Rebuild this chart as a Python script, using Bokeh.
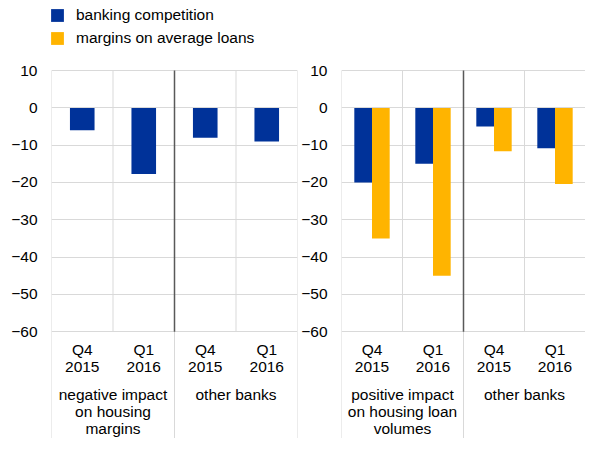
from bokeh.plotting import figure
from bokeh.models import Range1d, FixedTicker, Legend, LegendItem
from bokeh.layouts import row
from bokeh.embed import file_html
from bokeh.resources import INLINE
from bokeh.core.properties import value

# ---------------- data ----------------
quarters = ["Q4 2015", "Q1 2016", "Q4 2015", "Q1 2016"]
left_groups = ["negative impact\non housing\nmargins", "other banks"]
right_groups = ["positive impact\non housing loan\nvolumes", "other banks"]
series_names = ["banking competition", "margins on average loans"]

left_competition = [-6, -17.7, -8, -9]
right_competition = [-20, -15, -5, -10.8]
right_margins = [-35, -45, -11.6, -20.4]

yticks = [-60, -50, -40, -30, -20, -10, 0, 10]

# ---------------- style ----------------
BLUE = "#003299"
YELLOW = "#FFB400"
GRID = "#d9d9d9"
SEP = "#595959"
FONT = "Liberation Sans"
FSIZE = "15.5px"
Y_BOTTOM, Y_TOP = -88.63, 28.79
H = 438


def make_panel(width, border_left, border_right, groups):
    p = figure(width=width, height=H, x_range=Range1d(0, len(quarters)),
               y_range=Range1d(Y_BOTTOM, Y_TOP), output_backend="svg",
               toolbar_location=None, x_axis_location=None,
               min_border_left=border_left, min_border_right=border_right,
               min_border_top=0, min_border_bottom=0)
    p.outline_line_color = None
    p.background_fill_color = "white"
    p.border_fill_color = "white"
    p.xgrid.visible = False
    p.yaxis.ticker = FixedTicker(ticks=yticks)
    p.yaxis.axis_line_color = None
    p.yaxis.major_tick_line_color = None
    p.yaxis.minor_tick_line_color = None
    p.yaxis.major_tick_out = 0
    p.yaxis.major_tick_in = 0
    p.yaxis.major_label_standoff = 14
    p.yaxis.major_label_text_font = FONT
    p.yaxis.major_label_text_font_size = FSIZE
    p.yaxis.major_label_text_color = "#000000"
    p.ygrid.grid_line_color = GRID
    p.ygrid.grid_line_width = 1

    n = len(quarters)
    bounds = list(range(n + 1))
    group_size = n // len(groups)
    group_bounds = list(range(0, n + 1, group_size))
    seps = group_bounds[1:-1]

    # category grid lines inside the plot
    p.segment(x0=bounds, y0=[yticks[0]] * len(bounds), x1=bounds,
              y1=[yticks[-1]] * len(bounds), line_color=GRID, line_width=1)
    # group lines extending into the label area
    p.segment(x0=group_bounds, y0=[Y_BOTTOM] * len(group_bounds), x1=group_bounds,
              y1=[yticks[0]] * len(group_bounds), line_color=GRID, line_width=1)
    # dark separator between groups
    p.segment(x0=seps, y0=[yticks[0]] * len(seps), x1=seps,
              y1=[yticks[-1]] * len(seps), line_color=SEP, line_width=1.5)

    # category labels
    xs, ys, texts, offs = [], [], [], []
    q_offsets = [18.1, 35.2]
    for i, q in enumerate(quarters):
        for k, line in enumerate(q.split(" ")):
            xs.append(i + 0.5)
            ys.append(yticks[0])
            texts.append(line)
            offs.append(q_offsets[k])
    g_offsets = [62.7, 80.0, 97.0]
    for j, g in enumerate(groups):
        for k, line in enumerate(g.split("\n")):
            xs.append(j * group_size + group_size / 2)
            ys.append(yticks[0])
            texts.append(line)
            offs.append(g_offsets[k])
    p.text(x=xs, y=ys, text=texts, y_offset=offs, text_align="center",
           text_baseline="alphabetic", text_font=value(FONT),
           text_font_size=FSIZE, text_color="#000000")
    return p


centers = [i + 0.5 for i in range(len(quarters))]

p1 = make_panel(298, 51, 1, left_groups)
r_comp = p1.vbar(x=centers, top=left_competition, bottom=0, width=0.4,
                 fill_color=BLUE, line_color=None)
# the left panel has no margin bars: zero-height bars only feed the legend
r_marg = p1.vbar(x=centers, top=[0] * len(centers), bottom=0, width=0.29,
                 fill_color=YELLOW, line_color=None)

legend = Legend(items=[LegendItem(label=series_names[0], renderers=[r_comp]),
                       LegendItem(label=series_names[1], renderers=[r_marg])],
                location=(-2, 391), orientation="vertical", margin=0, padding=0,
                spacing=5, glyph_width=16, glyph_height=16, label_height=16,
                label_standoff=11, label_text_font=FONT, label_text_font_size=FSIZE,
                label_text_color="#000000", background_fill_alpha=0,
                border_line_color=None)
p1.add_layout(legend)

p2 = make_panel(287, 37, 0, right_groups)
bw = 0.29
p2.vbar(x=[c - bw / 2 for c in centers], top=right_competition, bottom=0, width=bw,
        fill_color=BLUE, line_color=None)
p2.vbar(x=[c + bw / 2 for c in centers], top=right_margins, bottom=0, width=bw,
        fill_color=YELLOW, line_color=None)

layout = row(p1, p2)
open("out.html", "w").write(file_html(layout, INLINE))
